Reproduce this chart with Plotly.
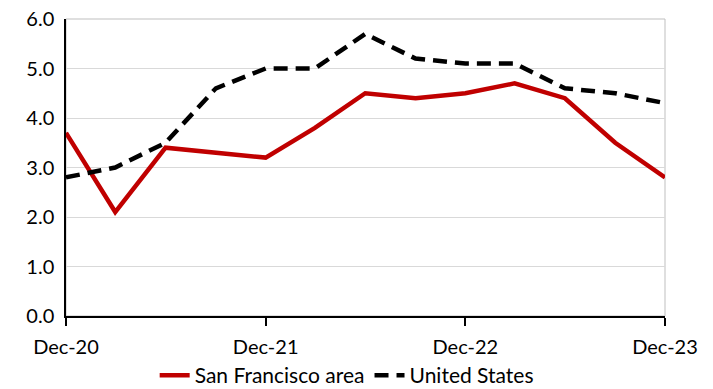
import plotly.graph_objects as go

# quarterly observations, Dec-20 .. Dec-23
quarters = ["2020-12-01", "2021-03-01", "2021-06-01", "2021-09-01",
            "2021-12-01", "2022-03-01", "2022-06-01", "2022-09-01",
            "2022-12-01", "2023-03-01", "2023-06-01", "2023-09-01",
            "2023-12-01"]
sf_area = [3.7, 2.1, 3.4, 3.3, 3.2, 3.8, 4.5, 4.4, 4.5, 4.7, 4.4, 3.5, 2.8]
united_states = [2.8, 3.0, 3.5, 4.6, 5.0, 5.0, 5.7, 5.2, 5.1, 5.1, 4.6, 4.5, 4.3]
y_ticks = [0, 1, 2, 3, 4, 5, 6]

FONT = "Lato"

fig = go.Figure()
fig.add_trace(go.Scatter(
    x=quarters, y=sf_area, name="San Francisco area", mode="lines",
    line=dict(color="#C00000", width=4.5),
))
fig.add_trace(go.Scatter(
    x=quarters, y=united_states, name="United States", mode="lines",
    line=dict(color="#000000", width=4.5, dash="14px,8px"),
))

# light grey frame on top/right of the plot area
fig.add_shape(type="rect", xref="paper", yref="paper", x0=0, x1=1, y0=0, y1=1,
              line=dict(color="#BFBFBF", width=1), layer="below")

# the page body adds an 8px offset, margins compensate for it
fig.update_layout(
    width=713, height=389,
    margin=dict(l=58, r=56, t=11, b=81, autoexpand=False),
    paper_bgcolor="white", plot_bgcolor="white",
    font=dict(family=FONT, size=20, color="#000000"),
    showlegend=True,
    legend=dict(orientation="h", xref="container", x=0.475, xanchor="center",
                yref="container", y=0.055, yanchor="middle",
                font=dict(size=21)),
    xaxis=dict(
        type="date", range=["2020-12-01", "2023-12-01"],
        tick0="2020-12-01", dtick="M12", tickformat="%b-%y",
        showgrid=False, showline=True, linecolor="#000000", linewidth=1.5,
        ticks="outside", ticklen=8, tickcolor="#000000", tickwidth=1.5,
        zeroline=False, automargin=False, ticklabeloverflow="allow",
        ticklabelstandoff=4,
    ),
    yaxis=dict(
        range=[0, 6], tickvals=y_ticks, tickformat=".1f",
        showgrid=True, gridcolor="#D9D9D9", gridwidth=1,
        showline=True, linecolor="#000000", linewidth=1.5,
        zeroline=False, ticks="", ticklabelstandoff=6, automargin=False,
        ticklabeloverflow="allow",
    ),
)

fig.write_html("out.html")
